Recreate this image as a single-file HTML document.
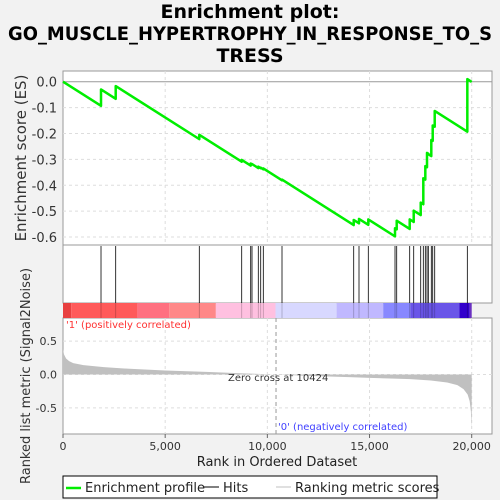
<!DOCTYPE html>
<html><head><meta charset="utf-8"><style>
html,body{margin:0;padding:0;background:#f2f2f2;}
svg{display:block;font-family:"DejaVu Sans","Liberation Sans",sans-serif;}
</style></head><body>
<svg id="chart" width="500" height="500" viewBox="0 0 500 500" xmlns="http://www.w3.org/2000/svg">
<rect width="500" height="500" fill="#f2f2f2"/>
<g font-weight="bold" font-size="19" text-anchor="middle" fill="#000">
<text x="250" y="18">Enrichment plot:</text>
<text x="250" y="40" textLength="484" lengthAdjust="spacingAndGlyphs">GO_MUSCLE_HYPERTROPHY_IN_RESPONSE_TO_S</text>
<text x="250" y="62">TRESS</text>
</g>
<g id="plots"></g>
</svg>
<script>
const N = 20000;
const hitRanks = [1860,2579,6670,8745,9185,9249,9557,9675,9802,10717,14226,14485,14940,16247,16330,16966,17162,17505,17632,17730,17813,17877,18023,18092,18190,19786];
const esAfter = [-0.030,-0.017,-0.205,-0.302,-0.316,-0.318,-0.328,-0.332,-0.335,-0.378,-0.534,-0.530,-0.532,-0.566,-0.537,-0.532,-0.498,-0.467,-0.373,-0.326,-0.275,-0.280,-0.225,-0.169,-0.113,0.010];
const esTicks = [0.0,-0.1,-0.2,-0.3,-0.4,-0.5,-0.6];
const esTickLabels = ["0.0","-0.1","-0.2","-0.3","-0.4","-0.5","-0.6"];
const rankTicks = [0,5000,10000,15000,20000];
const rankTickLabels = ["0","5,000","10,000","15,000","20,000"];
const metricRanks = [0,50,150,300,500,1000,2000,3000,5000,7000,9000,10424,12000,14000,15000,16000,17000,18000,18800,19300,19600,19800,19900,19960,20000];
const metricValues = [0.38,0.30,0.24,0.20,0.17,0.14,0.11,0.09,0.06,0.04,0.015,0.0,-0.02,-0.04,-0.05,-0.06,-0.07,-0.09,-0.12,-0.16,-0.22,-0.30,-0.40,-0.55,-0.82];
const metricTicks = [0.5,0.0,-0.5];
const metricTickLabels = ["0.5","0.0","-0.5"];
const bandStarts = [0,400,3640,5200,7480,10400,13390,15670,17000,19400,19900];
const bandEnds = [400,3640,5200,7480,10400,13390,15670,17000,19400,19900,20000];
const bandColors = ["#e84040","#ff5a5a","#ff7080","#ff8888","#ffc0e0","#d8d8ff","#c0b8ff","#8888ff","#6a55e8","#3300cc","#6a30c0"];

const NS="http://www.w3.org/2000/svg";
const g=document.getElementById('plots');
const L=63,R=492,X0=63,X1=471.7;
const xs=r=>X0+(X1-X0)*r/N;
const esY=v=>81.7-(v)*258.9;
const mY=v=>374.5-v*66.7;
function el(t,a,p){const e=document.createElementNS(NS,t);for(const k in a)e.setAttribute(k,a[k]);(p||g).appendChild(e);return e;}

let p1=el('rect',{x:L,y:71,width:R-L,height:174,fill:'#fff',stroke:'#999'});


let p2=el('rect',{x:L,y:245,width:R-L,height:58,fill:'#fff',stroke:'#999'});


let p3=el('rect',{x:L,y:318,width:R-L,height:116,fill:'#fff',stroke:'#999'});



rankTicks.forEach(r=>{
  if(r===0)return;
  let a=el('line',{x1:xs(r),x2:xs(r),y1:71,y2:245,stroke:'#ddd','stroke-dasharray':'3,3'});
  
  
  let b=el('line',{x1:xs(r),x2:xs(r),y1:318,y2:434,stroke:'#ddd','stroke-dasharray':'3,3'});
  
  
});
esTicks.forEach((v,i)=>{
  let a=el('line',{x1:L,x2:R,y1:esY(v),y2:esY(v),stroke:i===0?'#999':'#ddd','stroke-dasharray':i===0?'':'3,3'});
  
  
  let t=el('text',{x:57,y:esY(v)+5,'text-anchor':'end','font-size':13,fill:'#333'});
  t.textContent=esTickLabels[i];
  
  
});
metricTicks.forEach((v,i)=>{
  let a=el('line',{x1:L,x2:R,y1:mY(v),y2:mY(v),stroke:'#ddd','stroke-dasharray':'3,3'});
  
  
  let t=el('text',{x:57,y:mY(v)+4,'text-anchor':'end','font-size':11,fill:'#333'});
  t.textContent=metricTickLabels[i];
  
  
});

bandStarts.forEach((s,i)=>{
  let r=el('rect',{x:xs(s),y:303,width:xs(bandEnds[i])-xs(s),height:15,fill:bandColors[i]});
  
  
});

hitRanks.forEach(r=>{
  let a=el('line',{x1:xs(r),x2:xs(r),y1:246,y2:303,stroke:'#000','stroke-width':0.8});
  
  
  let b=el('line',{x1:xs(r),x2:xs(r),y1:303,y2:318,stroke:'#000','stroke-opacity':0.25,'stroke-width':0.8});
  
  
});

const slope=1/(N-hitRanks.length);
let pts=[[xs(0),esY(0)]];let prevR=0,prevV=0;
hitRanks.forEach((r,i)=>{
  const before=prevV-(r-prevR)*slope;
  pts.push([xs(r),esY(before)]);pts.push([xs(r),esY(esAfter[i])]);
  prevR=r;prevV=esAfter[i];
});
pts.push([xs(N),esY(prevV-(N-prevR)*slope)]);
let es=el('polyline',{points:pts.map(p=>p.join(',')).join(' '),fill:'none',stroke:'#00ee00','stroke-width':2.5,'stroke-linejoin':'round'});



let mp=[[xs(0),mY(0)]];
metricRanks.forEach((r,i)=>mp.push([xs(r),mY(metricValues[i])]));
mp.push([xs(N),mY(0)]);
let ma=el('polygon',{points:mp.map(p=>p.join(',')).join(' '),fill:'#c0c0c0'});



let zc=el('line',{x1:xs(10424),x2:xs(10424),y1:318,y2:434,stroke:'#999','stroke-dasharray':'4,3'});


function txt(x,y,s,attrs,name){let t=el('text',Object.assign({x:x,y:y},attrs));t.textContent=s;
  
  return t;}
txt(228,381,'Zero cross at 10424',{'font-size':10,fill:'#333'},'zero-cross-label');
txt(66,328,"'1' (positively correlated)",{'font-size':10,fill:'#ff3030'},'positive-label');
txt(278,430,"'0' (negatively correlated)",{'font-size':10,fill:'#4040ff'},'negative-label');

rankTicks.forEach((r,i)=>{
  let a=el('line',{x1:xs(r),x2:xs(r),y1:434,y2:438,stroke:'#666'});
  
  
  txt(xs(r),450,rankTickLabels[i],{'font-size':11,'text-anchor':'middle',fill:'#333'},'x-tick-label');
});
txt(277,466,'Rank in Ordered Dataset',{'font-size':13,'text-anchor':'middle',fill:'#222'},'x-axis-title');
txt(0,0,'Enrichment score (ES)',{'font-size':15,'text-anchor':'middle',fill:'#333',transform:'translate(26,158) rotate(-90)'},'es-axis-title');
txt(0,0,'Ranked list metric (Signal2Noise)',{'font-size':13,'text-anchor':'middle',fill:'#333',transform:'translate(30,376) rotate(-90)'},'metric-axis-title');

let lg=el('g',{});


el('rect',{x:63,y:476,width:374,height:22,fill:'#fff',stroke:'#000'},lg);
let l1=el('line',{x1:66,x2:81,y1:488,y2:488,stroke:'#00ee00','stroke-width':2.5},lg);


let t1=el('text',{x:85,y:492,'font-size':13,fill:'#222'},lg);t1.textContent='Enrichment profile';


let l2=el('line',{x1:204,x2:219,y1:487,y2:487,stroke:'#000'},lg);


let t2=el('text',{x:223,y:492,'font-size':13,fill:'#222'},lg);t2.textContent='Hits';


let l3=el('line',{x1:276,x2:291,y1:487,y2:487,stroke:'#c0c0c0'},lg);


let t3=el('text',{x:295,y:492,'font-size':13,fill:'#222'},lg);t3.textContent='Ranking metric scores';


</script>
</body></html>
